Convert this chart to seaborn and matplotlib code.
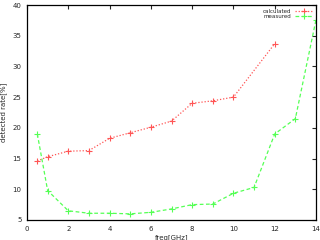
import matplotlib
matplotlib.use("Agg")
import matplotlib.pyplot as plt
import seaborn as sns
import pandas as pd

# data
red_x = [0.5, 1, 2, 3, 4, 5, 6, 7, 8, 9, 10, 12]
red_y = [14.6, 15.3, 16.2, 16.3, 18.3, 19.2, 20.1, 21.1, 24.0, 24.4, 25.0, 33.7]
green_x = [0.5, 1, 2, 3, 4, 5, 6, 7, 8, 9, 10, 11, 12, 13, 14]
green_y = [19.0, 9.8, 6.5, 6.1, 6.1, 6.0, 6.25, 6.8, 7.5, 7.6, 9.35, 10.3, 19.0, 21.5, 37.6]
red_label = "calculated"
green_label = "measured"
x_ticks = [0, 2, 4, 6, 8, 10, 12, 14]
y_ticks = [5, 10, 15, 20, 25, 30, 35, 40]

sns.set_style("white")
plt.rcParams['font.family'] = ['DejaVu Sans']

fig = plt.figure(figsize=(3.2, 2.4), dpi=100)
ax = fig.add_axes([27/320, 20/240, 289/320, 215/240])

red_df = pd.DataFrame({"x": red_x, "y": red_y})
green_df = pd.DataFrame({"x": green_x, "y": green_y})

sns.lineplot(data=red_df, x="x", y="y", ax=ax, color="#ff5555", lw=0.9,
             marker="+", markersize=4, markeredgewidth=0.8,
             markeredgecolor="#ff5555", label=red_label,
             linestyle=(0, (1, 1.5)))
sns.lineplot(data=green_df, x="x", y="y", ax=ax, color="#55ff55", lw=0.9,
             marker="+", markersize=4, markeredgewidth=0.8,
             markeredgecolor="#55ff55", label=green_label,
             linestyle=(0, (3, 2)))

ax.set_xlim(0, 14)
ax.set_ylim(5, 40)
ax.set_xticks(x_ticks)
ax.set_yticks(y_ticks)
ax.tick_params(direction="in", length=3, width=0.8, labelsize=5,
               top=True, right=True, pad=4)
for s in ax.spines.values():
    s.set_color("black")
    s.set_linewidth(0.9)
ax.set_xlabel("freq[GHz]", fontsize=5, labelpad=2)
ax.set_ylabel("detected rate[%]", fontsize=5, labelpad=4)

leg = ax.legend(loc="upper right", fontsize=4, frameon=False,
                handlelength=3, borderpad=0.2, labelspacing=0.1,
                markerfirst=False)

fig.savefig("out.png", dpi=100, facecolor="white")
